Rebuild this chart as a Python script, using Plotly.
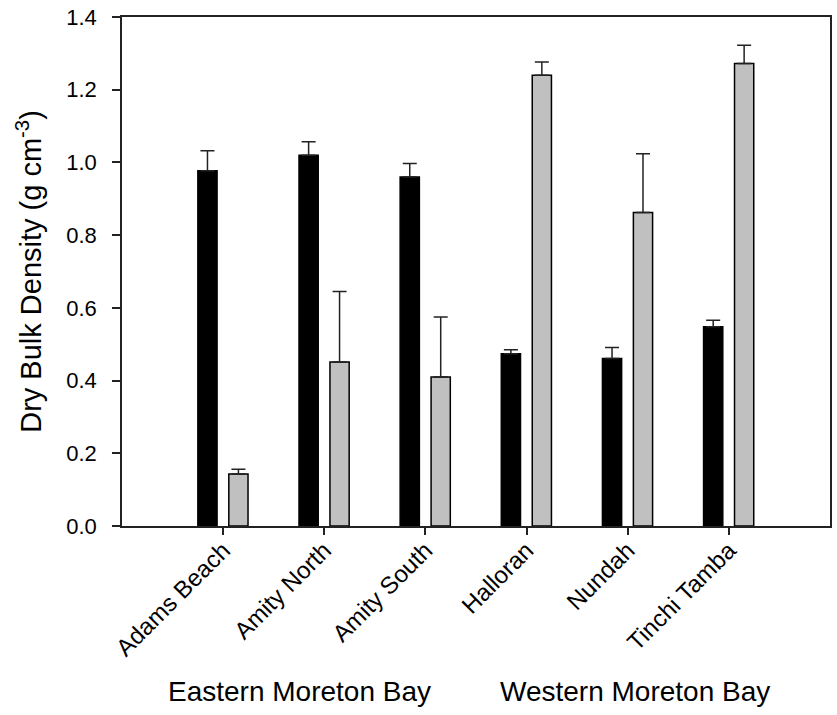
import plotly.graph_objects as go

sites = ["Adams Beach", "Amity North", "Amity South", "Halloran", "Nundah", "Tinchi Tamba"]
black_vals = [0.977, 1.020, 0.960, 0.474, 0.461, 0.548]
black_err = [0.055, 0.037, 0.037, 0.011, 0.030, 0.018]
grey_vals = [0.143, 0.451, 0.410, 1.240, 0.862, 1.272]
grey_err = [0.013, 0.194, 0.165, 0.036, 0.162, 0.050]
y_ticks = [0.0, 0.2, 0.4, 0.6, 0.8, 1.0, 1.2, 1.4]
group_labels = ["Eastern Moreton Bay", "Western Moreton Bay"]

FONT = "Liberation Sans, Arial, sans-serif"

fig = go.Figure()
fig.add_trace(go.Bar(
    x=sites, y=black_vals, width=0.19, offset=-0.25,
    marker=dict(color="black", line=dict(color="black", width=1.5)),
    error_y=dict(type="data", array=black_err, symmetric=False,
                 arrayminus=[0] * len(black_err),
                 color="#222", thickness=1.5, width=7),
    showlegend=False,
))
fig.add_trace(go.Bar(
    x=sites, y=grey_vals, width=0.19, offset=0.056,
    marker=dict(color="#c0c0c0", line=dict(color="black", width=1.5)),
    error_y=dict(type="data", array=grey_err, symmetric=False,
                 arrayminus=[0] * len(grey_err),
                 color="#222", thickness=1.5, width=7),
    showlegend=False,
))

fig.update_layout(
    width=837, height=715,
    margin=dict(l=122, r=5, t=16, b=189),
    plot_bgcolor="white", paper_bgcolor="white",
    font=dict(family=FONT, color="black"),
    barmode="overlay",
    xaxis=dict(
        type="category", range=[-1.0, 6.0],
        showline=True, linecolor="#222", linewidth=1.5, mirror=True,
        ticks="outside", ticklen=7, tickwidth=1.5, tickcolor="#222",
        tickangle=-45, tickfont=dict(size=24, family=FONT),
        ticklabelstandoff=-8,
        showgrid=False, zeroline=False,
    ),
    yaxis=dict(
        range=[0, 1.4], tickvals=y_ticks, tickformat=".1f",
        showline=True, linecolor="#222", linewidth=1.5, mirror=True,
        ticks="outside", ticklen=8, tickwidth=1.5, tickcolor="#222",
        tickfont=dict(size=22, family=FONT), ticklabelstandoff=11,
        title=dict(text="Dry Bulk Density (g cm<sup>-3</sup>)",
                   font=dict(size=29, family=FONT), standoff=16),
        showgrid=False, zeroline=False,
    ),
)

for label, xc in zip(group_labels, [0.251, 0.724]):
    fig.add_annotation(
        text=label, xref="paper", yref="paper", x=xc, y=-0.325,
        xanchor="center", yanchor="middle", showarrow=False,
        font=dict(size=28, family=FONT, color="black"),
    )

fig.write_html("out.html", config={"displayModeBar": False},
               post_script="document.body.style.margin='0';")
